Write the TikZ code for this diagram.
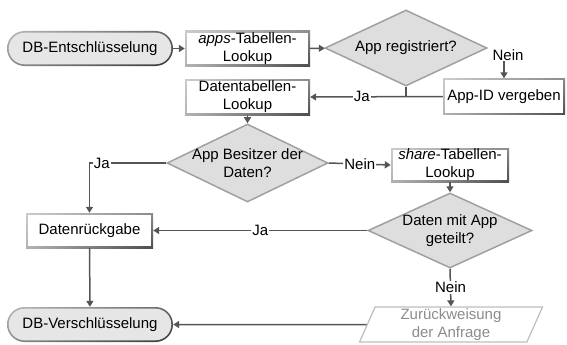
\documentclass[tikz,border=0pt]{standalone}
\usepackage{fontspec}
\setmainfont{Liberation Sans}
\usetikzlibrary{shapes.geometric,arrows.meta,shadings}
\definecolor{linegray}{HTML}{555555}
\definecolor{termfill}{HTML}{E6E6E6}
\definecolor{decedge}{HTML}{A0A0A0}
\definecolor{decfill}{HTML}{DEDEDE}
\definecolor{rejtext}{HTML}{8C8C8C}
\definecolor{rejedge}{HTML}{BEBEBE}

\begin{document}
\begin{tikzpicture}[x=1pt, y=-1pt,
  font=\fontsize{15}{18}\selectfont,
  every node/.style={align=center, inner sep=0pt},
  % bevelled outline: light top-left, dark bottom-right
  term/.style={rounded corners=17.5pt, minimum width=166pt, minimum height=35pt,
    path picture={
      \shade[upper left=black!28, upper right=black!60, lower left=black!45, lower right=black!78]
        (path picture bounding box.south west) rectangle (path picture bounding box.north east);
      \fill[termfill, rounded corners=15.8pt]
        ([shift={(1.7pt,1.7pt)}]path picture bounding box.south west) rectangle
        ([shift={(-1.7pt,-1.7pt)}]path picture bounding box.north east);
    }},
  procbox/.style={minimum height=35pt,
    path picture={
      \shade[upper left=black!20, upper right=black!45, lower left=black!30, lower right=black!70]
        (path picture bounding box.south west) rectangle (path picture bounding box.north east);
      \fill[white]
        ([shift={(1.6pt,1.6pt)}]path picture bounding box.south west) rectangle
        ([shift={(-1.6pt,-1.6pt)}]path picture bounding box.north east);
    }},
  decision/.style={diamond, draw=decedge, line width=1.5pt, fill=decfill},
  reject/.style={trapezium, trapezium left angle=64, trapezium right angle=116,
    trapezium stretches body, draw=rejedge, line width=1.2pt, fill=white,
    text=rejtext, minimum width=183pt, minimum height=35pt},
  conn/.style={draw=linegray, line width=1.5pt, -{Triangle[length=6pt,width=7pt]}},
  plain/.style={draw=linegray, line width=1.5pt},
  lbl/.style={fill=white, inner sep=1pt},
]
\useasboundingbox (0,0) rectangle (567,345);

% terminals
\node[term] (ent) at (90,48.5) {DB-Entschlüsselung};
\node[term] (ver) at (90,324.5) {DB-Verschlüsselung};

% process boxes
\node[procbox, minimum width=125pt] (apps) at (247.5,48.5) {\textit{apps}-Tabellen-\\Lookup};
\node[procbox, minimum width=125pt, minimum height=36pt] (dt) at (247.5,97) {Datentabellen-\\Lookup};
\node[procbox, minimum width=122pt, minimum height=36pt] (appid) at (504,96.5) {App-ID vergeben};
\node[procbox, minimum width=118pt, minimum height=34pt] (share) at (450,165) {\textit{share}-Tabellen-\\Lookup};
\node[procbox, minimum width=127pt] (ret) at (89.5,230.5) {Datenrückgabe};

% decisions (outline first, question text on top)
\node[decision, minimum width=162pt, minimum height=76pt] (d1) at (406,48) {};
\node at (d1) {App registriert?};
\node[decision, minimum width=161pt, minimum height=78pt] (d2) at (247.5,163) {};
\node at (d2) {App Besitzer der\\Daten?};
\node[decision, minimum width=164pt, minimum height=75pt] (d3) at (450,230.5) {};
\node at (d3) {Daten mit App\\geteilt?};

% rejection
\node[reject] (rej) at (451,324.5) {Zurückweisung\\der Anfrage};

% connectors
\draw[conn] (ent) -- (apps);
\draw[conn] (apps) -- (d1);

\node (n1) at (508,55.5) {Nein};
\draw[conn] (n1.south -| appid) -- (appid.north);

\coordinate (j1) at (d1.south |- dt.east);
\draw[plain] (d1.south) -- (j1);
\draw[conn] (appid.west) -- node[lbl, pos=0.61] {Ja} (dt.east);

\draw[conn] (dt) -- (d2);
\draw[conn] (d2.west) -| node[lbl, pos=0.42] {Ja} (ret.north);
\draw[conn] (d2.east) -- node[lbl] {Nein} (share.west);
\draw[conn] (share) -- (d3);
\draw[conn] (d3.west) -- node[lbl] {Ja} (ret.east);
\draw[conn] (d3.south) -- node[lbl] {Nein} (rej.north);
\draw[conn] (ret) -- (ver);
\draw[conn] (rej) -- (ver);
\end{tikzpicture}
\end{document}
